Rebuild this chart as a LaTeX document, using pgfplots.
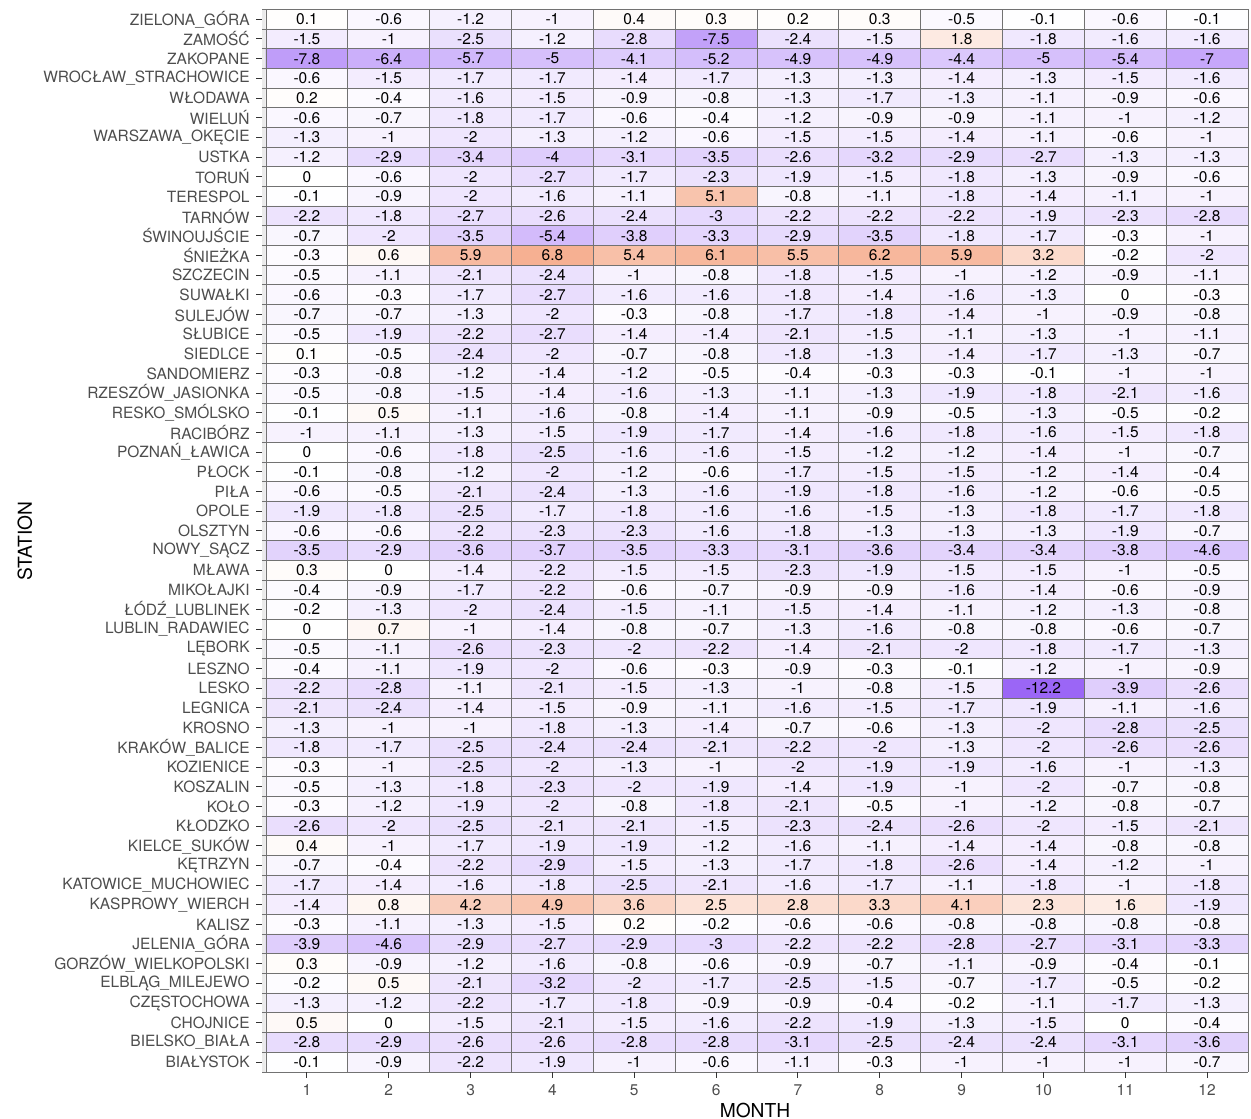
\documentclass[border=0pt]{standalone}
\usepackage{fontspec}
\setmainfont{TeX Gyre Heros}
\usepackage{pgfplots}
\usepackage{pgfplotstable}
\pgfplotsset{compat=1.18}

\definecolor{tilegray}{HTML}{727272}
\definecolor{panelgray}{HTML}{EBEBEB}
\definecolor{labgray}{HTML}{4D4D4D}
\definecolor{tickgray}{HTML}{333333}

% long form: month, row (1 = bottom), value; rows listed top to bottom
\pgfplotstableread[row sep=\\]{
x y c\\
1 54 0.1\\ 2 54 -0.6\\ 3 54 -1.2\\ 4 54 -1\\ 5 54 0.4\\ 6 54 0.3\\ 7 54 0.2\\ 8 54 0.3\\ 9 54 -0.5\\ 10 54 -0.1\\ 11 54 -0.6\\ 12 54 -0.1\\
1 53 -1.5\\ 2 53 -1\\ 3 53 -2.5\\ 4 53 -1.2\\ 5 53 -2.8\\ 6 53 -7.5\\ 7 53 -2.4\\ 8 53 -1.5\\ 9 53 1.8\\ 10 53 -1.8\\ 11 53 -1.6\\ 12 53 -1.6\\
1 52 -7.8\\ 2 52 -6.4\\ 3 52 -5.7\\ 4 52 -5\\ 5 52 -4.1\\ 6 52 -5.2\\ 7 52 -4.9\\ 8 52 -4.9\\ 9 52 -4.4\\ 10 52 -5\\ 11 52 -5.4\\ 12 52 -7\\
1 51 -0.6\\ 2 51 -1.5\\ 3 51 -1.7\\ 4 51 -1.7\\ 5 51 -1.4\\ 6 51 -1.7\\ 7 51 -1.3\\ 8 51 -1.3\\ 9 51 -1.4\\ 10 51 -1.3\\ 11 51 -1.5\\ 12 51 -1.6\\
1 50 0.2\\ 2 50 -0.4\\ 3 50 -1.6\\ 4 50 -1.5\\ 5 50 -0.9\\ 6 50 -0.8\\ 7 50 -1.3\\ 8 50 -1.7\\ 9 50 -1.3\\ 10 50 -1.1\\ 11 50 -0.9\\ 12 50 -0.6\\
1 49 -0.6\\ 2 49 -0.7\\ 3 49 -1.8\\ 4 49 -1.7\\ 5 49 -0.6\\ 6 49 -0.4\\ 7 49 -1.2\\ 8 49 -0.9\\ 9 49 -0.9\\ 10 49 -1.1\\ 11 49 -1\\ 12 49 -1.2\\
1 48 -1.3\\ 2 48 -1\\ 3 48 -2\\ 4 48 -1.3\\ 5 48 -1.2\\ 6 48 -0.6\\ 7 48 -1.5\\ 8 48 -1.5\\ 9 48 -1.4\\ 10 48 -1.1\\ 11 48 -0.6\\ 12 48 -1\\
1 47 -1.2\\ 2 47 -2.9\\ 3 47 -3.4\\ 4 47 -4\\ 5 47 -3.1\\ 6 47 -3.5\\ 7 47 -2.6\\ 8 47 -3.2\\ 9 47 -2.9\\ 10 47 -2.7\\ 11 47 -1.3\\ 12 47 -1.3\\
1 46 0\\ 2 46 -0.6\\ 3 46 -2\\ 4 46 -2.7\\ 5 46 -1.7\\ 6 46 -2.3\\ 7 46 -1.9\\ 8 46 -1.5\\ 9 46 -1.8\\ 10 46 -1.3\\ 11 46 -0.9\\ 12 46 -0.6\\
1 45 -0.1\\ 2 45 -0.9\\ 3 45 -2\\ 4 45 -1.6\\ 5 45 -1.1\\ 6 45 5.1\\ 7 45 -0.8\\ 8 45 -1.1\\ 9 45 -1.8\\ 10 45 -1.4\\ 11 45 -1.1\\ 12 45 -1\\
1 44 -2.2\\ 2 44 -1.8\\ 3 44 -2.7\\ 4 44 -2.6\\ 5 44 -2.4\\ 6 44 -3\\ 7 44 -2.2\\ 8 44 -2.2\\ 9 44 -2.2\\ 10 44 -1.9\\ 11 44 -2.3\\ 12 44 -2.8\\
1 43 -0.7\\ 2 43 -2\\ 3 43 -3.5\\ 4 43 -5.4\\ 5 43 -3.8\\ 6 43 -3.3\\ 7 43 -2.9\\ 8 43 -3.5\\ 9 43 -1.8\\ 10 43 -1.7\\ 11 43 -0.3\\ 12 43 -1\\
1 42 -0.3\\ 2 42 0.6\\ 3 42 5.9\\ 4 42 6.8\\ 5 42 5.4\\ 6 42 6.1\\ 7 42 5.5\\ 8 42 6.2\\ 9 42 5.9\\ 10 42 3.2\\ 11 42 -0.2\\ 12 42 -2\\
1 41 -0.5\\ 2 41 -1.1\\ 3 41 -2.1\\ 4 41 -2.4\\ 5 41 -1\\ 6 41 -0.8\\ 7 41 -1.8\\ 8 41 -1.5\\ 9 41 -1\\ 10 41 -1.2\\ 11 41 -0.9\\ 12 41 -1.1\\
1 40 -0.6\\ 2 40 -0.3\\ 3 40 -1.7\\ 4 40 -2.7\\ 5 40 -1.6\\ 6 40 -1.6\\ 7 40 -1.8\\ 8 40 -1.4\\ 9 40 -1.6\\ 10 40 -1.3\\ 11 40 0\\ 12 40 -0.3\\
1 39 -0.7\\ 2 39 -0.7\\ 3 39 -1.3\\ 4 39 -2\\ 5 39 -0.3\\ 6 39 -0.8\\ 7 39 -1.7\\ 8 39 -1.8\\ 9 39 -1.4\\ 10 39 -1\\ 11 39 -0.9\\ 12 39 -0.8\\
1 38 -0.5\\ 2 38 -1.9\\ 3 38 -2.2\\ 4 38 -2.7\\ 5 38 -1.4\\ 6 38 -1.4\\ 7 38 -2.1\\ 8 38 -1.5\\ 9 38 -1.1\\ 10 38 -1.3\\ 11 38 -1\\ 12 38 -1.1\\
1 37 0.1\\ 2 37 -0.5\\ 3 37 -2.4\\ 4 37 -2\\ 5 37 -0.7\\ 6 37 -0.8\\ 7 37 -1.8\\ 8 37 -1.3\\ 9 37 -1.4\\ 10 37 -1.7\\ 11 37 -1.3\\ 12 37 -0.7\\
1 36 -0.3\\ 2 36 -0.8\\ 3 36 -1.2\\ 4 36 -1.4\\ 5 36 -1.2\\ 6 36 -0.5\\ 7 36 -0.4\\ 8 36 -0.3\\ 9 36 -0.3\\ 10 36 -0.1\\ 11 36 -1\\ 12 36 -1\\
1 35 -0.5\\ 2 35 -0.8\\ 3 35 -1.5\\ 4 35 -1.4\\ 5 35 -1.6\\ 6 35 -1.3\\ 7 35 -1.1\\ 8 35 -1.3\\ 9 35 -1.9\\ 10 35 -1.8\\ 11 35 -2.1\\ 12 35 -1.6\\
1 34 -0.1\\ 2 34 0.5\\ 3 34 -1.1\\ 4 34 -1.6\\ 5 34 -0.8\\ 6 34 -1.4\\ 7 34 -1.1\\ 8 34 -0.9\\ 9 34 -0.5\\ 10 34 -1.3\\ 11 34 -0.5\\ 12 34 -0.2\\
1 33 -1\\ 2 33 -1.1\\ 3 33 -1.3\\ 4 33 -1.5\\ 5 33 -1.9\\ 6 33 -1.7\\ 7 33 -1.4\\ 8 33 -1.6\\ 9 33 -1.8\\ 10 33 -1.6\\ 11 33 -1.5\\ 12 33 -1.8\\
1 32 0\\ 2 32 -0.6\\ 3 32 -1.8\\ 4 32 -2.5\\ 5 32 -1.6\\ 6 32 -1.6\\ 7 32 -1.5\\ 8 32 -1.2\\ 9 32 -1.2\\ 10 32 -1.4\\ 11 32 -1\\ 12 32 -0.7\\
1 31 -0.1\\ 2 31 -0.8\\ 3 31 -1.2\\ 4 31 -2\\ 5 31 -1.2\\ 6 31 -0.6\\ 7 31 -1.7\\ 8 31 -1.5\\ 9 31 -1.5\\ 10 31 -1.2\\ 11 31 -1.4\\ 12 31 -0.4\\
1 30 -0.6\\ 2 30 -0.5\\ 3 30 -2.1\\ 4 30 -2.4\\ 5 30 -1.3\\ 6 30 -1.6\\ 7 30 -1.9\\ 8 30 -1.8\\ 9 30 -1.6\\ 10 30 -1.2\\ 11 30 -0.6\\ 12 30 -0.5\\
1 29 -1.9\\ 2 29 -1.8\\ 3 29 -2.5\\ 4 29 -1.7\\ 5 29 -1.8\\ 6 29 -1.6\\ 7 29 -1.6\\ 8 29 -1.5\\ 9 29 -1.3\\ 10 29 -1.8\\ 11 29 -1.7\\ 12 29 -1.8\\
1 28 -0.6\\ 2 28 -0.6\\ 3 28 -2.2\\ 4 28 -2.3\\ 5 28 -2.3\\ 6 28 -1.6\\ 7 28 -1.8\\ 8 28 -1.3\\ 9 28 -1.3\\ 10 28 -1.3\\ 11 28 -1.9\\ 12 28 -0.7\\
1 27 -3.5\\ 2 27 -2.9\\ 3 27 -3.6\\ 4 27 -3.7\\ 5 27 -3.5\\ 6 27 -3.3\\ 7 27 -3.1\\ 8 27 -3.6\\ 9 27 -3.4\\ 10 27 -3.4\\ 11 27 -3.8\\ 12 27 -4.6\\
1 26 0.3\\ 2 26 0\\ 3 26 -1.4\\ 4 26 -2.2\\ 5 26 -1.5\\ 6 26 -1.5\\ 7 26 -2.3\\ 8 26 -1.9\\ 9 26 -1.5\\ 10 26 -1.5\\ 11 26 -1\\ 12 26 -0.5\\
1 25 -0.4\\ 2 25 -0.9\\ 3 25 -1.7\\ 4 25 -2.2\\ 5 25 -0.6\\ 6 25 -0.7\\ 7 25 -0.9\\ 8 25 -0.9\\ 9 25 -1.6\\ 10 25 -1.4\\ 11 25 -0.6\\ 12 25 -0.9\\
1 24 -0.2\\ 2 24 -1.3\\ 3 24 -2\\ 4 24 -2.4\\ 5 24 -1.5\\ 6 24 -1.1\\ 7 24 -1.5\\ 8 24 -1.4\\ 9 24 -1.1\\ 10 24 -1.2\\ 11 24 -1.3\\ 12 24 -0.8\\
1 23 0\\ 2 23 0.7\\ 3 23 -1\\ 4 23 -1.4\\ 5 23 -0.8\\ 6 23 -0.7\\ 7 23 -1.3\\ 8 23 -1.6\\ 9 23 -0.8\\ 10 23 -0.8\\ 11 23 -0.6\\ 12 23 -0.7\\
1 22 -0.5\\ 2 22 -1.1\\ 3 22 -2.6\\ 4 22 -2.3\\ 5 22 -2\\ 6 22 -2.2\\ 7 22 -1.4\\ 8 22 -2.1\\ 9 22 -2\\ 10 22 -1.8\\ 11 22 -1.7\\ 12 22 -1.3\\
1 21 -0.4\\ 2 21 -1.1\\ 3 21 -1.9\\ 4 21 -2\\ 5 21 -0.6\\ 6 21 -0.3\\ 7 21 -0.9\\ 8 21 -0.3\\ 9 21 -0.1\\ 10 21 -1.2\\ 11 21 -1\\ 12 21 -0.9\\
1 20 -2.2\\ 2 20 -2.8\\ 3 20 -1.1\\ 4 20 -2.1\\ 5 20 -1.5\\ 6 20 -1.3\\ 7 20 -1\\ 8 20 -0.8\\ 9 20 -1.5\\ 10 20 -12.2\\ 11 20 -3.9\\ 12 20 -2.6\\
1 19 -2.1\\ 2 19 -2.4\\ 3 19 -1.4\\ 4 19 -1.5\\ 5 19 -0.9\\ 6 19 -1.1\\ 7 19 -1.6\\ 8 19 -1.5\\ 9 19 -1.7\\ 10 19 -1.9\\ 11 19 -1.1\\ 12 19 -1.6\\
1 18 -1.3\\ 2 18 -1\\ 3 18 -1\\ 4 18 -1.8\\ 5 18 -1.3\\ 6 18 -1.4\\ 7 18 -0.7\\ 8 18 -0.6\\ 9 18 -1.3\\ 10 18 -2\\ 11 18 -2.8\\ 12 18 -2.5\\
1 17 -1.8\\ 2 17 -1.7\\ 3 17 -2.5\\ 4 17 -2.4\\ 5 17 -2.4\\ 6 17 -2.1\\ 7 17 -2.2\\ 8 17 -2\\ 9 17 -1.3\\ 10 17 -2\\ 11 17 -2.6\\ 12 17 -2.6\\
1 16 -0.3\\ 2 16 -1\\ 3 16 -2.5\\ 4 16 -2\\ 5 16 -1.3\\ 6 16 -1\\ 7 16 -2\\ 8 16 -1.9\\ 9 16 -1.9\\ 10 16 -1.6\\ 11 16 -1\\ 12 16 -1.3\\
1 15 -0.5\\ 2 15 -1.3\\ 3 15 -1.8\\ 4 15 -2.3\\ 5 15 -2\\ 6 15 -1.9\\ 7 15 -1.4\\ 8 15 -1.9\\ 9 15 -1\\ 10 15 -2\\ 11 15 -0.7\\ 12 15 -0.8\\
1 14 -0.3\\ 2 14 -1.2\\ 3 14 -1.9\\ 4 14 -2\\ 5 14 -0.8\\ 6 14 -1.8\\ 7 14 -2.1\\ 8 14 -0.5\\ 9 14 -1\\ 10 14 -1.2\\ 11 14 -0.8\\ 12 14 -0.7\\
1 13 -2.6\\ 2 13 -2\\ 3 13 -2.5\\ 4 13 -2.1\\ 5 13 -2.1\\ 6 13 -1.5\\ 7 13 -2.3\\ 8 13 -2.4\\ 9 13 -2.6\\ 10 13 -2\\ 11 13 -1.5\\ 12 13 -2.1\\
1 12 0.4\\ 2 12 -1\\ 3 12 -1.7\\ 4 12 -1.9\\ 5 12 -1.9\\ 6 12 -1.2\\ 7 12 -1.6\\ 8 12 -1.1\\ 9 12 -1.4\\ 10 12 -1.4\\ 11 12 -0.8\\ 12 12 -0.8\\
1 11 -0.7\\ 2 11 -0.4\\ 3 11 -2.2\\ 4 11 -2.9\\ 5 11 -1.5\\ 6 11 -1.3\\ 7 11 -1.7\\ 8 11 -1.8\\ 9 11 -2.6\\ 10 11 -1.4\\ 11 11 -1.2\\ 12 11 -1\\
1 10 -1.7\\ 2 10 -1.4\\ 3 10 -1.6\\ 4 10 -1.8\\ 5 10 -2.5\\ 6 10 -2.1\\ 7 10 -1.6\\ 8 10 -1.7\\ 9 10 -1.1\\ 10 10 -1.8\\ 11 10 -1\\ 12 10 -1.8\\
1 9 -1.4\\ 2 9 0.8\\ 3 9 4.2\\ 4 9 4.9\\ 5 9 3.6\\ 6 9 2.5\\ 7 9 2.8\\ 8 9 3.3\\ 9 9 4.1\\ 10 9 2.3\\ 11 9 1.6\\ 12 9 -1.9\\
1 8 -0.3\\ 2 8 -1.1\\ 3 8 -1.3\\ 4 8 -1.5\\ 5 8 0.2\\ 6 8 -0.2\\ 7 8 -0.6\\ 8 8 -0.6\\ 9 8 -0.8\\ 10 8 -0.8\\ 11 8 -0.8\\ 12 8 -0.8\\
1 7 -3.9\\ 2 7 -4.6\\ 3 7 -2.9\\ 4 7 -2.7\\ 5 7 -2.9\\ 6 7 -3\\ 7 7 -2.2\\ 8 7 -2.2\\ 9 7 -2.8\\ 10 7 -2.7\\ 11 7 -3.1\\ 12 7 -3.3\\
1 6 0.3\\ 2 6 -0.9\\ 3 6 -1.2\\ 4 6 -1.6\\ 5 6 -0.8\\ 6 6 -0.6\\ 7 6 -0.9\\ 8 6 -0.7\\ 9 6 -1.1\\ 10 6 -0.9\\ 11 6 -0.4\\ 12 6 -0.1\\
1 5 -0.2\\ 2 5 0.5\\ 3 5 -2.1\\ 4 5 -3.2\\ 5 5 -2\\ 6 5 -1.7\\ 7 5 -2.5\\ 8 5 -1.5\\ 9 5 -0.7\\ 10 5 -1.7\\ 11 5 -0.5\\ 12 5 -0.2\\
1 4 -1.3\\ 2 4 -1.2\\ 3 4 -2.2\\ 4 4 -1.7\\ 5 4 -1.8\\ 6 4 -0.9\\ 7 4 -0.9\\ 8 4 -0.4\\ 9 4 -0.2\\ 10 4 -1.1\\ 11 4 -1.7\\ 12 4 -1.3\\
1 3 0.5\\ 2 3 0\\ 3 3 -1.5\\ 4 3 -2.1\\ 5 3 -1.5\\ 6 3 -1.6\\ 7 3 -2.2\\ 8 3 -1.9\\ 9 3 -1.3\\ 10 3 -1.5\\ 11 3 0\\ 12 3 -0.4\\
1 2 -2.8\\ 2 2 -2.9\\ 3 2 -2.6\\ 4 2 -2.6\\ 5 2 -2.8\\ 6 2 -2.8\\ 7 2 -3.1\\ 8 2 -2.5\\ 9 2 -2.4\\ 10 2 -2.4\\ 11 2 -3.1\\ 12 2 -3.6\\
1 1 -0.1\\ 2 1 -0.9\\ 3 1 -2.2\\ 4 1 -1.9\\ 5 1 -1\\ 6 1 -0.6\\ 7 1 -1.1\\ 8 1 -0.3\\ 9 1 -1\\ 10 1 -1\\ 11 1 -1\\ 12 1 -0.7\\
}\heat

\begin{document}
\begin{tikzpicture}
\path[use as bounding box] (0,0) rectangle (625.5pt,559pt);
\begin{axis}[
    at={(131pt,23pt)}, anchor=south west,
    scale only axis,
    width=493pt, height=531.25pt,
    xmin=0.451, xmax=12.5,
    ymin=0.5, ymax=54.5,
    enlargelimits=false,
    axis background/.style={fill=panelgray},
    axis line style={draw=none},
    axis on top,
    tick pos=left,
    tick align=outside,
    major tick length=3pt,
    every tick/.style={draw=tickgray, line width=0.5pt},
    xtick={1,...,12},
    xticklabels={1,2,3,4,5,6,7,8,9,10,11,12},
    ytick={1,...,54},
    yticklabels={BIAŁYSTOK,BIELSKO\_BIAŁA,CHOJNICE,CZĘSTOCHOWA,ELBLĄG\_MILEJEWO,
      GORZÓW\_WIELKOPOLSKI,JELENIA\_GÓRA,KALISZ,KASPROWY\_WIERCH,KATOWICE\_MUCHOWIEC,
      KĘTRZYN,KIELCE\_SUKÓW,KŁODZKO,KOŁO,KOSZALIN,KOZIENICE,KRAKÓW\_BALICE,KROSNO,
      LEGNICA,LESKO,LESZNO,LĘBORK,LUBLIN\_RADAWIEC,ŁÓDŹ\_LUBLINEK,MIKOŁAJKI,MŁAWA,
      NOWY\_SĄCZ,OLSZTYN,OPOLE,PIŁA,PŁOCK,POZNAŃ\_ŁAWICA,RACIBÓRZ,RESKO\_SMÓLSKO,
      RZESZÓW\_JASIONKA,SANDOMIERZ,SIEDLCE,SŁUBICE,SULEJÓW,SUWAŁKI,SZCZECIN,ŚNIEŻKA,
      ŚWINOUJŚCIE,TARNÓW,TERESPOL,TORUŃ,USTKA,WARSZAWA\_OKĘCIE,WIELUŃ,WŁODAWA,
      WROCŁAW\_STRACHOWICE,ZAKOPANE,ZAMOŚĆ,ZIELONA\_GÓRA},
    ticklabel style={font=\fontsize{7.75}{9}\selectfont, text=labgray, inner sep=0pt},
    xticklabel style={yshift=-3pt},
    yticklabel style={xshift=-3pt},
    minor xtick={0.5,1.5,...,12.5},
    minor ytick={0.5,1.5,...,54.5},
    minor tick length=0pt,
    xminorgrids, yminorgrids,
    minor grid style={draw=tilegray, line width=0.5pt},
    colormap={tempdiff}{rgb255(0cm)=(155,102,246); rgb255(12.2cm)=(255,255,255); rgb255(19cm)=(246,176,146)},
    point meta min=-12.2, point meta max=6.8,
    xlabel={MONTH}, ylabel={STATION},
    every axis x label/.style={at={(axis description cs:0.5,-0.0292)}, anchor=north,
      inner sep=0pt, font=\fontsize{9.6}{11}\selectfont},
    every axis y label/.style={at={(axis description cs:-0.2404,0.5)}, rotate=90,
      anchor=center, inner sep=0pt, font=\fontsize{9.6}{11}\selectfont},
]
\addplot[matrix plot*, mesh/cols=12, point meta=explicit]
    table[x=x, y=y, meta=c] {\heat};
\addplot[only marks, mark=none, point meta=explicit symbolic,
    nodes near coords, nodes near coords align=center,
    every node near coord/.style={font=\fontsize{7.75}{9}\selectfont, text=black,
      anchor=center, inner sep=0pt}]
    table[x=x, y=y, meta=c] {\heat};
\end{axis}
\end{tikzpicture}
\end{document}
